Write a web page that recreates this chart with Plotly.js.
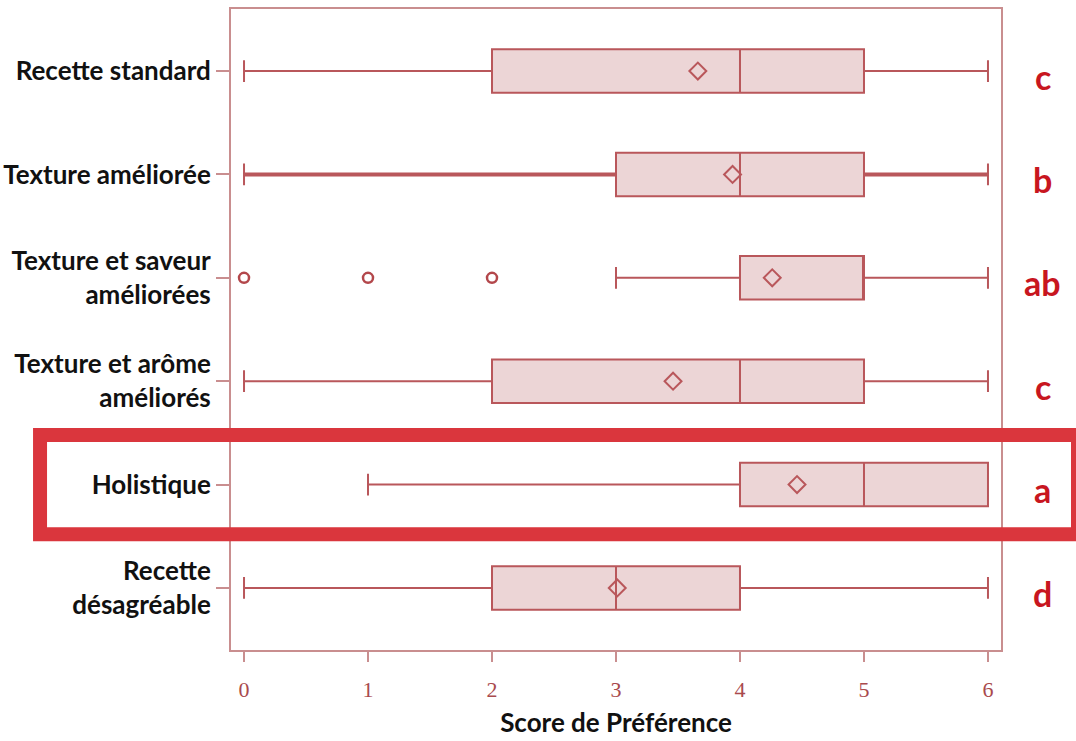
<!DOCTYPE html>
<html>
<head>
<meta charset="utf-8">
<script src="https://cdn.plot.ly/plotly-3.0.1.min.js"></script>
<style>
  html, body { margin: 0; padding: 0; background: #ffffff; }
  #chart { width: 1076px; height: 741px; }
</style>
</head>
<body>
<div id="chart"></div>
<script>
// Recipe names (top to bottom)
const recipes = [
  "Recette standard",
  "Texture améliorée",
  "Texture et saveur<br>améliorées",
  "Texture et arôme<br>améliorés",
  "Holistique",
  "Recette<br>désagréable"
];

// Box statistics of the preference score
const lowerWhisker = [0, 0, 3, 0, 1, 0];
const q1Values     = [2, 3, 4, 2, 4, 2];
const medianValues = [4, 4, 5, 4, 5, 3];
const q3Values     = [5, 5, 5, 5, 6, 4];
const upperWhisker = [6, 6, 6, 6, 6, 6];
const meanValues   = [3.66, 3.94, 4.26, 3.46, 4.46, 3.01];

// Outlying scores (only for "Texture et saveur améliorées")
const outlierScores = [0, 1, 2];
const outlierRecipe = [recipes[2], recipes[2], recipes[2]];

// Significance groups
const groupLetters = ["c", "b", "ab", "c", "a", "d"];

// Highlighted recipe
const highlighted = "Holistique";

const boxLine = "#b9575b";
const boxFill = "#ecd5d6";
const frameCol = "#c98e8f";
const labelFont = "Lato, 'Open Sans', sans-serif";
// Recipe whose whiskers are drawn heavier
const heavyWhiskerIndex = 1;

const traces = recipes.map((name, i) => ({
  type: "box",
  orientation: "h",
  y: [name],
  q1: [q1Values[i]],
  median: [medianValues[i]],
  q3: [q3Values[i]],
  lowerfence: [lowerWhisker[i]],
  upperfence: [upperWhisker[i]],
  width: 0.42,
  whiskerwidth: 0.5,
  fillcolor: boxFill,
  line: { color: boxLine, width: 2 },
  boxpoints: false,
  hoverinfo: "skip",
  showlegend: false
}));

// Heavier whisker stems for one recipe
{
  const k = heavyWhiskerIndex;
  traces.push({
    type: "scatter",
    mode: "lines",
    x: [lowerWhisker[k], q1Values[k], null, q3Values[k], upperWhisker[k]],
    y: [recipes[k], recipes[k], null, recipes[k], recipes[k]],
    line: { color: boxLine, width: 4 },
    connectgaps: false,
    hoverinfo: "skip",
    showlegend: false
  });
}

// Means as open diamonds
traces.push({
  type: "scatter",
  mode: "markers",
  x: meanValues,
  y: recipes,
  marker: { symbol: "diamond-open", size: 13, color: boxLine, line: { width: 2, color: boxLine } },
  hoverinfo: "skip",
  showlegend: false
});

// Outliers as open circles
traces.push({
  type: "scatter",
  mode: "markers",
  x: outlierScores,
  y: outlierRecipe,
  marker: { symbol: "circle-open", size: 10, color: "#b3474b", line: { width: 2.5, color: "#b3474b" } },
  hoverinfo: "skip",
  showlegend: false
});

const hiIndex = recipes.indexOf(highlighted);

const annotations = groupLetters.map((g, i) => ({
  xref: "paper",
  yref: "y",
  x: 1.0545,
  y: i + 0.05,
  text: g,
  showarrow: false,
  xanchor: "center",
  yanchor: "middle",
  font: { family: labelFont, size: 34, color: "#c8161f", weight: "bold" }
}));

const layout = {
  width: 1076,
  height: 741,
  paper_bgcolor: "#ffffff",
  plot_bgcolor: "#ffffff",
  margin: { l: 231, r: 75, t: 9, b: 91 },
  boxmode: "overlay",
  showlegend: false,
  xaxis: {
    range: [-0.105, 6.105],
    tickvals: [0, 1, 2, 3, 4, 5, 6],
    ticks: "outside",
    ticklen: 10,
    tickwidth: 2,
    tickcolor: frameCol,
    ticklabelstandoff: 9,
    tickfont: { family: "'Liberation Serif', 'DejaVu Serif', serif", size: 22, color: "#a94a4d" },
    showgrid: false,
    zeroline: false,
    showline: true,
    linecolor: frameCol,
    linewidth: 2,
    mirror: true,
    title: {
      text: "Score de Préférence",
      font: { family: labelFont, size: 26, color: "#111111", weight: "bold" },
      standoff: 12
    }
  },
  yaxis: {
    type: "category",
    categoryorder: "array",
    categoryarray: recipes,
    range: [5.6, -0.6],
    ticks: "outside",
    ticklen: 13,
    tickwidth: 2,
    tickcolor: frameCol,
    ticklabelstandoff: 0,
    tickfont: { family: labelFont, size: 26, color: "#111111", weight: "bold" },
    showgrid: false,
    zeroline: false,
    showline: true,
    linecolor: frameCol,
    linewidth: 2,
    mirror: true
  },
  shapes: [{
    type: "rect",
    xref: "paper",
    yref: "y",
    x0: -0.248,
    x1: 1.1,
    y0: hiIndex - 0.48,
    y1: hiIndex + 0.48,
    line: { color: "#da363d", width: 14 },
    fillcolor: "rgba(0,0,0,0)",
    layer: "above"
  }],
  annotations: annotations
};

Plotly.newPlot("chart", traces, layout, { displayModeBar: false, staticPlot: true });
</script>
</body>
</html>
